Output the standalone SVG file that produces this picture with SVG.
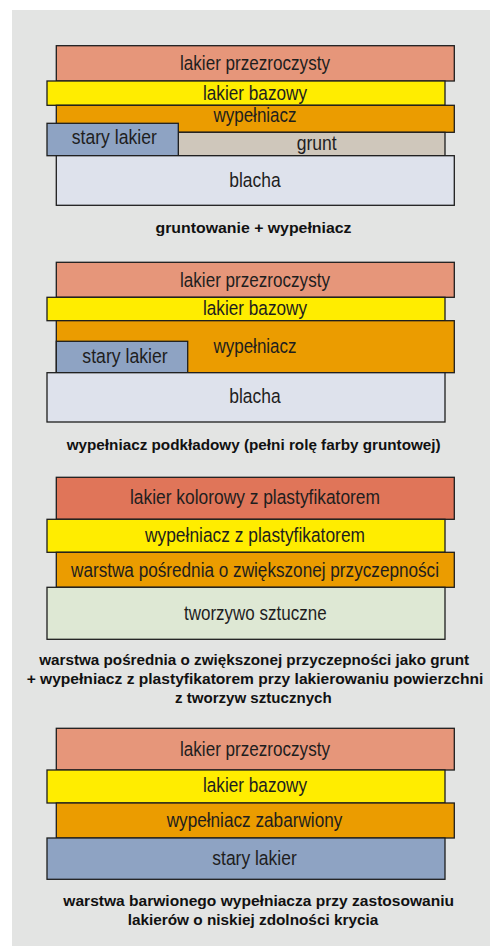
<svg xmlns="http://www.w3.org/2000/svg" width="490" height="946" viewBox="0 0 490 946">
<style>
.l{stroke:#1e1e1e;stroke-width:1.3}
.t{font-family:"Liberation Sans",Arial,sans-serif;font-size:20.5px;fill:#1e1e1e;text-anchor:middle}
.c{font-family:"Liberation Sans",Arial,sans-serif;font-size:15px;font-weight:bold;fill:#111;text-anchor:middle}
.clear{fill:#E6967A}.base{fill:#FFED00}.fill{fill:#EB9C00}.old{fill:#8EA3C3}.prim{fill:#CFC7BB}.sheet{fill:#DEE2EC}.color{fill:#E07559}.plast{fill:#DEE8D4}
</style>
<rect x="12" y="10" width="478" height="936" fill="#E3E4E3"/>
<g id="connectors"/>
<g id="panel1">
<g id="p1-clear"><rect class="l clear" x="56.3" y="45.7" width="398" height="35.3"/><text class="t" x="255" y="70" textLength="150" lengthAdjust="spacingAndGlyphs">lakier przezroczysty</text></g>
<g id="p1-base"><rect class="l base" x="47" y="81" width="398" height="24.3"/><text class="t" x="255" y="100" textLength="104" lengthAdjust="spacingAndGlyphs">lakier bazowy</text></g>
<g id="p1-filler"><rect class="l fill" x="56.3" y="105.3" width="398" height="27"/><text class="t" x="255" y="122.3" textLength="83" lengthAdjust="spacingAndGlyphs">wypełniacz</text></g>
<g id="p1-primer"><rect class="l prim" x="178.3" y="132.3" width="266.7" height="23.4"/><text class="t" x="316.7" y="150" textLength="40" lengthAdjust="spacingAndGlyphs">grunt</text></g>
<g id="p1-old"><rect class="l old" x="47" y="123.3" width="131.3" height="32.4"/><text class="t" x="114.3" y="144.3" textLength="85" lengthAdjust="spacingAndGlyphs">stary lakier</text></g>
<g id="p1-sheet"><rect class="l sheet" x="56.3" y="155.7" width="398" height="49.6"/><text class="t" x="255" y="186.7" textLength="51.4" lengthAdjust="spacingAndGlyphs">blacha</text></g>
<text class="c" x="253.5" y="233.3" textLength="196" lengthAdjust="spacingAndGlyphs">gruntowanie + wypełniacz</text>
</g>
<g id="panel2">
<g id="p2-clear"><rect class="l clear" x="56.3" y="262.3" width="398" height="35"/><text class="t" x="255" y="286.7" textLength="150" lengthAdjust="spacingAndGlyphs">lakier przezroczysty</text></g>
<g id="p2-base"><rect class="l base" x="47" y="297.3" width="398" height="23.4"/><text class="t" x="255" y="315.3" textLength="104" lengthAdjust="spacingAndGlyphs">lakier bazowy</text></g>
<g id="p2-filler"><rect class="l fill" x="56.3" y="320.7" width="398" height="52"/><text class="t" x="255" y="352.7" textLength="83" lengthAdjust="spacingAndGlyphs">wypełniacz</text></g>
<g id="p2-old"><rect class="l old" x="56.3" y="341.3" width="131.4" height="31.4"/><text class="t" x="125" y="363.3" textLength="85.3" lengthAdjust="spacingAndGlyphs">stary lakier</text></g>
<g id="p2-sheet"><rect class="l sheet" x="47" y="372.7" width="398" height="49.3"/><text class="t" x="255" y="403.3" textLength="51.4" lengthAdjust="spacingAndGlyphs">blacha</text></g>
<text class="c" x="253.7" y="449.5" textLength="374" lengthAdjust="spacingAndGlyphs">wypełniacz podkładowy (pełni rolę farby gruntowej)</text>
</g>
<g id="panel3">
<g id="p3-color"><rect class="l color" x="56.3" y="477.3" width="398" height="42"/><text class="t" x="255" y="504.3" textLength="250" lengthAdjust="spacingAndGlyphs">lakier kolorowy z plastyfikatorem</text></g>
<g id="p3-filler"><rect class="l base" x="47" y="519.3" width="398" height="33"/><text class="t" x="255" y="541.7" textLength="220" lengthAdjust="spacingAndGlyphs">wypełniacz z plastyfikatorem</text></g>
<g id="p3-adhesion"><rect class="l fill" x="56.3" y="552.3" width="398" height="35"/><text class="t" x="255" y="576.7" textLength="368" lengthAdjust="spacingAndGlyphs">warstwa pośrednia o zwiększonej przyczepności</text></g>
<g id="p3-plastic"><rect class="l plast" x="47" y="587.3" width="398" height="52"/><text class="t" x="255.3" y="620" textLength="142.7" lengthAdjust="spacingAndGlyphs">tworzywo sztuczne</text></g>
<text class="c" x="254.2" y="664.7" textLength="430" lengthAdjust="spacingAndGlyphs">warstwa pośrednia o zwiększonej przyczepności jako grunt</text>
<text class="c" x="255" y="684" textLength="456.7" lengthAdjust="spacingAndGlyphs">+ wypełniacz z plastyfikatorem przy lakierowaniu powierzchni</text>
<text class="c" x="253.3" y="703.3" textLength="156.7" lengthAdjust="spacingAndGlyphs">z tworzyw sztucznych</text>
</g>
<g id="panel4">
<g id="p4-clear"><rect class="l clear" x="56.3" y="728.3" width="398" height="41.7"/><text class="t" x="255" y="756" textLength="150" lengthAdjust="spacingAndGlyphs">lakier przezroczysty</text></g>
<g id="p4-base"><rect class="l base" x="47" y="770" width="398" height="33"/><text class="t" x="255" y="791.7" textLength="104" lengthAdjust="spacingAndGlyphs">lakier bazowy</text></g>
<g id="p4-filler"><rect class="l fill" x="56.3" y="803" width="398" height="35"/><text class="t" x="254.5" y="827.3" textLength="175.7" lengthAdjust="spacingAndGlyphs">wypełniacz zabarwiony</text></g>
<g id="p4-old"><rect class="l old" x="47" y="838" width="398" height="41.3"/><text class="t" x="254.5" y="865" textLength="84.4" lengthAdjust="spacingAndGlyphs">stary lakier</text></g>
<text class="c" x="258.7" y="906" textLength="390.7" lengthAdjust="spacingAndGlyphs">warstwa barwionego wypełniacza przy zastosowaniu</text>
<text class="c" x="253" y="924.7" textLength="250.7" lengthAdjust="spacingAndGlyphs">lakierów o niskiej zdolności krycia</text>
</g>
</svg>
